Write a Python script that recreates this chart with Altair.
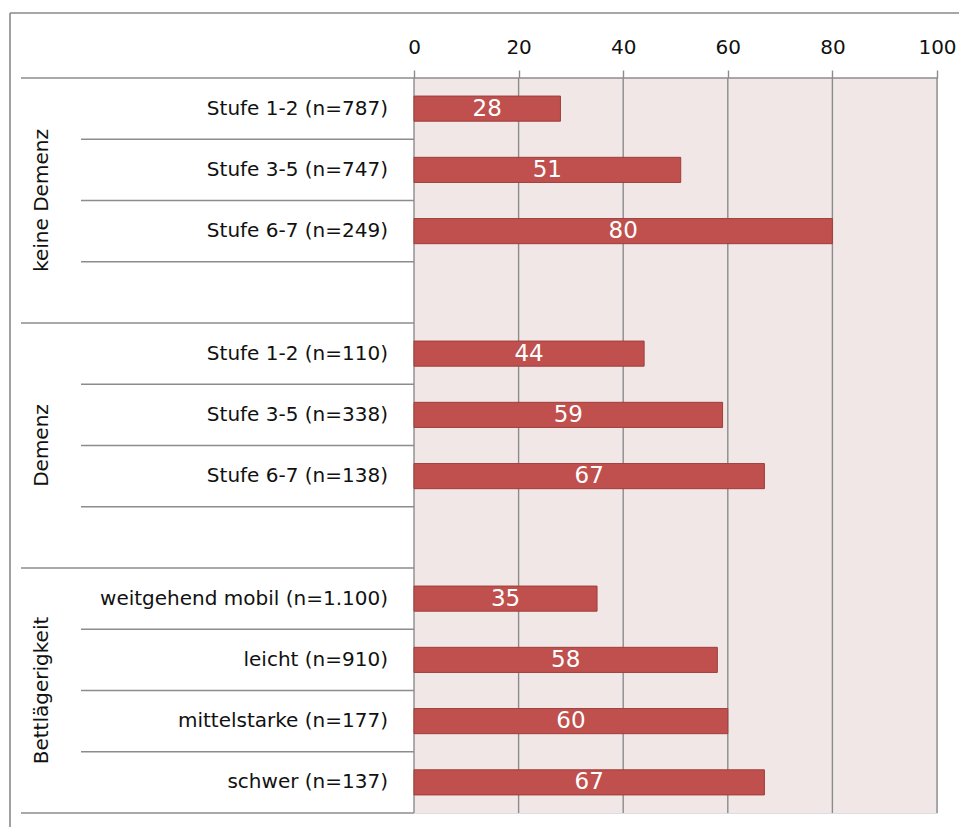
import altair as alt
import pandas as pd

# ---- data ----
row_labels = [
    "Stufe 1-2 (n=787)", "Stufe 3-5 (n=747)", "Stufe 6-7 (n=249)", "",
    "Stufe 1-2 (n=110)", "Stufe 3-5 (n=338)", "Stufe 6-7 (n=138)", "",
    "weitgehend mobil (n=1.100)", "leicht (n=910)", "mittelstarke (n=177)", "schwer (n=137)",
]
row_values = [28, 51, 80, None, 44, 59, 67, None, 35, 58, 60, 67]
group_names = ["keine Demenz", "Demenz", "Bettlägerigkeit"]
group_rows = [4, 4, 4]
tick_values = [0, 20, 40, 60, 80, 100]

FONT = "DejaVu Sans"
GRID = "#8c8c8c"
W, H = 523, 735

rows = []
for i, (lab, v) in enumerate(zip(row_labels, row_values)):
    rows.append({"row": i, "label": lab, "value": v})
df = pd.DataFrame(rows)
bars_df = df.dropna(subset=["value"]).copy()

g_rows = []
start = 0
for name, n in zip(group_names, group_rows):
    g_rows.append({"group": name, "gstart": start, "gend": start + n})
    start += n
gdf = pd.DataFrame(g_rows)

group_bounds = sorted(set([g["gstart"] for g in g_rows] + [g["gend"] for g in g_rows]))
inner_bounds = [b for b in range(1, len(row_labels)) if b not in group_bounds]
gb_df = pd.DataFrame({"b": [b for b in group_bounds if b != 0]})
top_df = pd.DataFrame({"b": [0]})
ib_df = pd.DataFrame({"b": inner_bounds})
ticks_df = pd.DataFrame({"t": tick_values})
bg_df = pd.DataFrame({"x0": [tick_values[0]], "x1": [tick_values[-1]],
                      "y0": [0], "y1": [len(row_labels)]})

yscale = alt.Scale(domain=[0, len(row_labels)], reverse=True, nice=False, zero=False)
xscale = alt.Scale(domain=[0, 100], nice=False)

background = alt.Chart(bg_df).mark_rect(color="#F2E7E7").encode(
    x=alt.X("x0:Q", scale=xscale,
            axis=alt.Axis(orient="top", values=tick_values, grid=False,
                          tickColor=GRID, tickWidth=1.4, tickSize=8,
                          domain=False, labelFont=FONT, labelFontSize=20,
                          labelColor="#111", labelPadding=13, labelFlush=False,
                          title=None)),
    x2="x1:Q",
    y=alt.Y("y0:Q", scale=yscale, axis=None),
    y2="y1:Q",
)

grid = alt.Chart(ticks_df).mark_rule(color=GRID, strokeWidth=1.4).encode(
    x=alt.X("t:Q", scale=xscale), y=alt.value(0), y2=alt.value(H))

bars = alt.Chart(bars_df).transform_calculate(
    y0="datum.row + 0.295", y1="datum.row + 0.705", zero="0"
).mark_rect(color="#C0504D", stroke="#9E3E3B", strokeWidth=1).encode(
    x=alt.X("value:Q", scale=xscale),
    x2="zero:Q",
    y=alt.Y("y0:Q", scale=yscale),
    y2="y1:Q",
)

vlabels = alt.Chart(bars_df).transform_calculate(
    mid="datum.value / 2", yc="datum.row + 0.5"
).mark_text(color="white", font=FONT, fontSize=23, baseline="middle", align="center").encode(
    x=alt.X("mid:Q", scale=xscale),
    y=alt.Y("yc:Q", scale=yscale),
    text=alt.Text("value:Q", format="d"),
)

clabels = alt.Chart(df).transform_calculate(
    yc="datum.row + 0.5"
).mark_text(color="#111", font=FONT, fontSize=20, baseline="middle", align="right").encode(
    x=alt.value(-26),
    y=alt.Y("yc:Q", scale=yscale),
    text="label:N",
)

glabels = alt.Chart(gdf).transform_calculate(
    yc="(datum.gstart + datum.gend) / 2"
).mark_text(color="#111", font=FONT, fontSize=20, baseline="middle", align="center",
            angle=270).encode(
    x=alt.value(-372),
    y=alt.Y("yc:Q", scale=yscale),
    text="group:N",
)

group_rules = alt.Chart(gb_df).mark_rule(color=GRID, strokeWidth=1.4).encode(
    x=alt.value(-393), x2=alt.value(0), y=alt.Y("b:Q", scale=yscale))
top_rule = alt.Chart(top_df).mark_rule(color=GRID, strokeWidth=1.4).encode(
    x=alt.value(-393), x2=alt.value(W), y=alt.Y("b:Q", scale=yscale))
inner_rules = alt.Chart(ib_df).mark_rule(color=GRID, strokeWidth=1.4).encode(
    x=alt.value(-333), x2=alt.value(0), y=alt.Y("b:Q", scale=yscale))

frame_top = alt.Chart(top_df).mark_rule(color="#8a8a8a", strokeWidth=1.6).encode(
    x=alt.value(-404), x2=alt.value(545), y=alt.value(-65))
frame_left = alt.Chart(top_df).mark_rule(color="#8a8a8a", strokeWidth=1.6).encode(
    x=alt.value(-404), y=alt.value(-65), y2=alt.value(749))

chart = alt.layer(
    background, grid, bars, vlabels, clabels, glabels, group_rules, top_rule, inner_rules,
    frame_top, frame_left
).properties(
    width=W, height=H,
    autosize=alt.AutoSizeParams(type="none"),
    padding={"left": 406, "top": 70, "right": 22, "bottom": 14},
).configure_view(strokeWidth=0).configure(background="white")

chart.save("out.html", embed_options={"renderer": "svg", "actions": False})
